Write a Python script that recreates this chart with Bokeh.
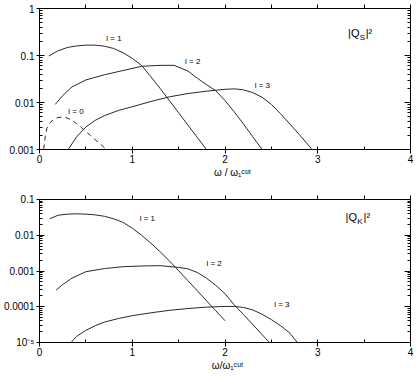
from bokeh.plotting import figure
from bokeh.models import LogAxis, LinearAxis, FixedTicker, Label, Range1d, CustomLabelingPolicy
from bokeh.layouts import column
from bokeh.embed import file_html
from bokeh.resources import INLINE
from bokeh.core.properties import value

FONT = "Liberation Sans"
LINE = "#2a2a2a"

# ---------------- top panel data: |Q_S|^2 ----------------
s_l0_x = [0.045, 0.06, 0.08, 0.11, 0.15, 0.2, 0.25, 0.3, 0.35, 0.4, 0.45, 0.5, 0.55, 0.6, 0.65, 0.72]
s_l0_y = [0.001, 0.00178, 0.00282, 0.00363, 0.00437, 0.00479, 0.0049, 0.00468, 0.00417, 0.00355,
          0.00295, 0.0024, 0.002, 0.00162, 0.00135, 0.001]
s_l1_x = [0.1, 0.2, 0.3, 0.4, 0.5, 0.6, 0.7, 0.8, 0.9, 1.0, 1.1, 1.2, 1.3, 1.4, 1.5, 1.6, 1.7, 1.8]
s_l1_y = [0.0977, 0.126, 0.148, 0.160, 0.166, 0.166, 0.158, 0.141, 0.115, 0.0871, 0.0617, 0.0355,
          0.0200, 0.0110, 0.00603, 0.00331, 0.00182, 0.001]
s_l2_x = [0.17, 0.25, 0.35, 0.5, 0.7, 0.9, 1.1, 1.3, 1.45, 1.6, 1.7, 1.8, 1.9, 2.0, 2.1, 2.2, 2.3, 2.4]
s_l2_y = [0.00912, 0.0141, 0.0214, 0.0302, 0.0389, 0.0479, 0.0589, 0.0617, 0.0617, 0.0468, 0.0331,
          0.0240, 0.0178, 0.0110, 0.00631, 0.00347, 0.00186, 0.001]
s_l3_x = [0.31, 0.4, 0.5, 0.6, 0.7, 0.85, 1.0, 1.2, 1.4, 1.6, 1.8, 2.0, 2.1, 2.2, 2.3, 2.4, 2.5,
          2.6, 2.7, 2.8, 2.94]
s_l3_y = [0.001, 0.00186, 0.00302, 0.00417, 0.00525, 0.00676, 0.00813, 0.0105, 0.0132, 0.0155,
          0.0174, 0.0191, 0.0195, 0.0186, 0.0162, 0.0129, 0.00912, 0.00575, 0.00347, 0.00209, 0.001]
s_lab_x = [0.31, 0.72, 1.57, 2.32]
s_lab_y = [0.0063, 0.234, 0.0759, 0.0229]
s_lab_t = ["l = 0", "l = 1", "l = 2", "l = 3"]

# ---------------- bottom panel data: |Q_K|^2 ----------------
k_l1_x = [0.11, 0.2, 0.3, 0.4, 0.5, 0.6, 0.7, 0.8, 0.9, 1.0, 1.1, 1.2, 1.3, 1.4, 1.5, 1.6, 1.7,
          1.8, 1.9, 2.0]
k_l1_y = [0.0288, 0.0363, 0.0389, 0.0398, 0.0389, 0.0372, 0.0339, 0.0288, 0.0229, 0.0158, 0.0100,
          0.00603, 0.00347, 0.00191, 0.00102, 0.000537, 0.000282, 0.000148, 7.76e-5, 4.07e-5]
k_l2_x = [0.18, 0.25, 0.35, 0.5, 0.7, 0.9, 1.1, 1.3, 1.5, 1.6, 1.7, 1.8, 1.9, 2.0, 2.1, 2.2, 2.3,
          2.4, 2.48]
k_l2_y = [0.000295, 0.000417, 0.000631, 0.000955, 0.00117, 0.00132, 0.00138, 0.00141, 0.00126,
          0.00115, 0.000912, 0.000631, 0.000398, 0.000234, 0.000112, 6.03e-5, 3.16e-5, 1.66e-5, 1e-5]
k_l3_x = [0.34, 0.4, 0.5, 0.6, 0.7, 0.85, 1.0, 1.2, 1.4, 1.6, 1.8, 2.0, 2.1, 2.2, 2.3, 2.4, 2.5,
          2.6, 2.7, 2.78]
k_l3_y = [1e-5, 1.48e-5, 2.19e-5, 2.95e-5, 3.72e-5, 4.68e-5, 5.62e-5, 6.76e-5, 7.94e-5, 8.91e-5,
          9.77e-5, 0.000102, 0.000102, 9.55e-5, 8.13e-5, 6.17e-5, 4.37e-5, 2.95e-5, 1.82e-5, 1e-5]
k_lab_x = [1.08, 1.80, 2.53]
k_lab_y = [0.0288, 0.00162, 0.000117]
k_lab_t = ["l = 1", "l = 2", "l = 3"]

x_major = [0, 1, 2, 3, 4]
x_minor = [0.5, 1.5, 2.5, 3.5]
x_top = [0.5, 1, 1.5, 2, 2.5, 3, 3.5, 4]
x_labels = ["0", "1", "2", "3", "4"]

s_decades = [0.001, 0.01, 0.1, 1]
s_dec_labels = ["0.001", "0.01", "0.1", "1"]
k_decades = [1e-5, 1e-4, 1e-3, 1e-2, 1e-1]
k_dec_labels = ["10\u207b\u2075", "0.0001", "0.001", "0.01", "0.1"]
mantissas = [2, 3, 4, 5, 6, 7, 8, 9]

s_xlabel = "\u2003\u2002\u03c9 / \u03c9\u2081\u1d9c\u1d58\u1d57"
k_xlabel = "\u2002\u03c9/\u03c9\u2081\u1d9c\u1d58\u1d57"

NO_LABELS = "return new Set()"


def make_panel(height, y_lo, y_hi, decades, dec_labels, xlabel, border_left, border_top,
               border_bottom):
    p = figure(width=416, height=height, x_range=Range1d(0, 4), y_range=Range1d(y_lo, y_hi),
               y_axis_type="log", output_backend="svg", toolbar_location=None,
               min_border_left=border_left, min_border_right=6,
               min_border_top=border_top, min_border_bottom=border_bottom)
    p.grid.visible = False
    p.outline_line_color = "black"
    p.outline_line_width = 1
    p.background_fill_color = "white"
    p.border_fill_color = "white"

    minors = [m * d for d in decades[:-1] for m in mantissas]

    xa = p.xaxis[0]
    xa.ticker = FixedTicker(ticks=x_major, minor_ticks=x_minor)
    xa.major_label_overrides = {float(t): l for t, l in zip(x_major, x_labels)}
    xa.major_tick_in = 3
    xa.major_tick_out = 4
    xa.minor_tick_in = 3
    xa.minor_tick_out = 0
    xa.major_tick_line_color = "black"
    xa.minor_tick_line_color = "black"
    xa.major_label_standoff = 1
    xa.major_label_text_font = FONT
    xa.major_label_text_font_size = "10px"
    xa.major_label_text_color = "black"
    xa.axis_line_color = "black"
    xa.axis_label = xlabel
    xa.axis_label_text_font = FONT
    xa.axis_label_text_font_size = "10px"
    xa.axis_label_text_font_style = "normal"
    xa.axis_label_text_color = "black"
    xa.axis_label_standoff = 1

    ya = p.yaxis[0]
    ya.ticker = FixedTicker(ticks=decades, minor_ticks=minors)
    ya.major_label_overrides = {t: l for t, l in zip(decades, dec_labels)}
    ya.major_tick_in = 5
    ya.major_tick_out = 3
    ya.minor_tick_in = 3
    ya.minor_tick_out = 0
    ya.major_tick_line_color = "black"
    ya.minor_tick_line_color = "black"
    ya.major_label_standoff = 2
    ya.major_label_text_font = FONT
    ya.major_label_text_font_size = "10px"
    ya.major_label_text_color = "black"
    ya.axis_line_color = "black"

    # right edge: ticks only
    ra = LogAxis(ticker=FixedTicker(ticks=decades, minor_ticks=minors),
                 major_tick_in=6, major_tick_out=0, minor_tick_in=3, minor_tick_out=0,
                 major_tick_line_color="black", minor_tick_line_color="black",
                 major_label_policy=CustomLabelingPolicy(code=NO_LABELS),
                 major_label_text_font_size="1px", major_label_standoff=0,
                 axis_label_standoff=0, axis_line_color="black")
    p.add_layout(ra, "right")

    # top edge: ticks only, pointing out
    ta = LinearAxis(ticker=FixedTicker(ticks=x_top, minor_ticks=[]),
                    major_tick_in=0, major_tick_out=4, minor_tick_in=0, minor_tick_out=0,
                    major_tick_line_color="black",
                    major_label_policy=CustomLabelingPolicy(code=NO_LABELS),
                    major_label_text_font_size="1px", major_label_standoff=0,
                    axis_label_standoff=0, axis_line_color="black")
    p.add_layout(ta, "above")
    return p


# ---------------- top panel ----------------
p1 = make_panel(190, 0.001, 1, s_decades, s_dec_labels, s_xlabel, 36, 6, 41)
p1.line(s_l0_x, s_l0_y, line_color=LINE, line_width=1, line_dash="5 4")
p1.line(s_l1_x, s_l1_y, line_color=LINE, line_width=1)
p1.line(s_l2_x, s_l2_y, line_color=LINE, line_width=1)
p1.line(s_l3_x, s_l3_y, line_color=LINE, line_width=1)
p1.text(x=s_lab_x, y=s_lab_y, text=s_lab_t, text_font=value(FONT), text_font_size="8px",
        text_baseline="middle", text_align="left", text_color="black")

for txt, dx, dy, fs in [("|Q", 0, 0, "11px"), ("S", 11.6, -4.5, "8px"), ("|\u00b2", 17.6, 0, "11px")]:
    p1.add_layout(Label(x=3.327, y=10 ** -0.524, x_offset=dx, y_offset=dy, text=txt,
                        text_font=FONT, text_font_size=fs, text_baseline="middle",
                        text_align="left", text_color="black"))

# ---------------- bottom panel ----------------
p2 = make_panel(187, 1e-5, 0.1, k_decades, k_dec_labels, k_xlabel, 36, 9, 35)
p2.line(k_l1_x, k_l1_y, line_color=LINE, line_width=1)
p2.line(k_l2_x, k_l2_y, line_color=LINE, line_width=1)
p2.line(k_l3_x, k_l3_y, line_color=LINE, line_width=1)
p2.text(x=k_lab_x, y=k_lab_y, text=k_lab_t, text_font=value(FONT), text_font_size="8px",
        text_baseline="middle", text_align="left", text_color="black")

for txt, dx, dy, fs in [("|Q", 0, 0, "11px"), ("K", 11.7, -4.5, "8px"), ("|\u00b2", 18, 0, "11px")]:
    p2.add_layout(Label(x=3.30, y=10 ** -1.476, x_offset=dx, y_offset=dy, text=txt,
                        text_font=FONT, text_font_size=fs, text_baseline="middle",
                        text_align="left", text_color="black"))

layout = column(p1, p2, spacing=0)
open("out.html", "w").write(file_html(layout, INLINE))
